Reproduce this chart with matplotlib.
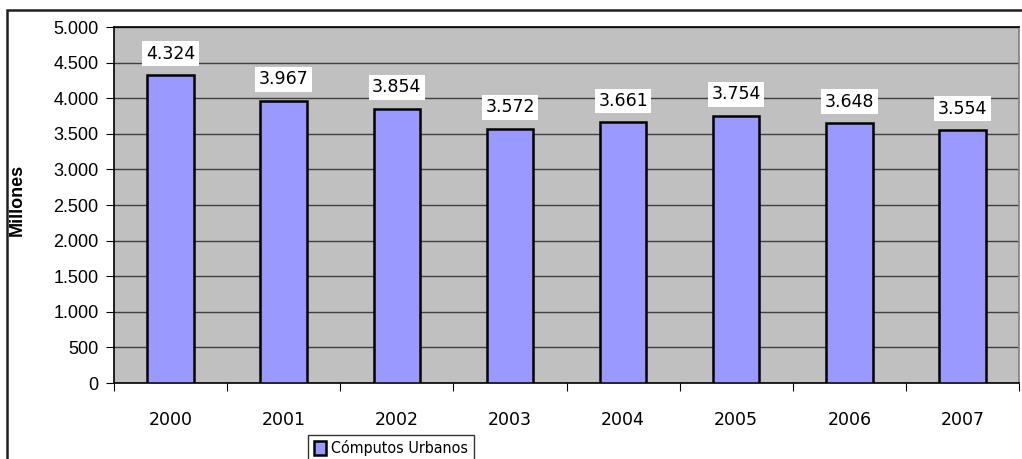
import matplotlib
import matplotlib.pyplot as plt
from matplotlib.patches import Rectangle

matplotlib.use('Agg')

# Datos
years = ['2000', '2001', '2002', '2003', '2004', '2005', '2006', '2007']
values = [4324, 3967, 3854, 3572, 3661, 3754, 3648, 3554]
y_ticks = [0, 500, 1000, 1500, 2000, 2500, 3000, 3500, 4000, 4500, 5000]


def fmt(v):
    # separador de miles con punto
    return f'{v:,}'.replace(',', '.')


W, H = 1022, 459
fig = plt.figure(figsize=(W / 100, H / 100), dpi=100)

# marco exterior del gráfico (recortado a la derecha y abajo)
fig.patches.append(Rectangle((7 / W, -0.05), 1.2, 1 - 10 / H + 0.05,
                             transform=fig.transFigure, fill=False,
                             edgecolor='#202020', linewidth=1.8))

ax = fig.add_axes([114 / W, 1 - 383 / H, (1019 - 114) / W, (383 - 27) / H])
ax.set_facecolor('#C0C0C0')

x = range(len(years))
ax.bar(x, values, width=0.41, color='#9999FF', edgecolor='black',
       linewidth=1.8, zorder=3, label='Cómputos Urbanos')

for i, v in zip(x, values):
    ax.text(i, v + 300, fmt(v), ha='center', va='center', fontsize=12.5,
            family='DejaVu Sans', zorder=4,
            bbox=dict(facecolor='white', edgecolor='none', pad=2.5))

ax.set_xlim(-0.5, len(years) - 0.5)
ax.set_ylim(0, 5000)
ax.set_yticks(y_ticks)
ax.set_yticklabels([fmt(t) for t in y_ticks], family='Liberation Sans',
                   fontsize=13)
ax.yaxis.grid(True, color='#404040', linewidth=1, zorder=0)

ax.set_xticks([i - 0.5 for i in range(len(years) + 1)], minor=False)
ax.set_xticklabels([])
ax.set_xticks(list(x), minor=True)
ax.set_xticklabels(years, minor=True, family='DejaVu Sans', fontsize=12.5)
ax.tick_params(axis='x', which='major', direction='out', length=6, color='black')
ax.tick_params(axis='x', which='minor', length=0, pad=20)
ax.tick_params(axis='y', direction='out', length=6, color='black', pad=5)

for side in ['left', 'bottom', 'top']:
    ax.spines[side].set_color('black')
    ax.spines[side].set_linewidth(1.2)
ax.spines['right'].set_color('#808080')
ax.spines['right'].set_linewidth(1.2)

ax.set_ylabel('Millones', fontweight='bold', family='Liberation Sans',
              fontsize=13)
ax.yaxis.set_label_coords(-0.097, 0.515)

leg = fig.legend(loc='lower left', bbox_to_anchor=(308 / W, -3 / H),
                 frameon=True, fancybox=False, edgecolor='black',
                 prop={'family': 'DejaVu Sans', 'size': 11.5,
                       'stretch': 'condensed'},
                 handlelength=0.8, handleheight=0.9, handletextpad=0.3,
                 borderpad=0.35, borderaxespad=0)
leg.get_frame().set_linewidth(1)

fig.savefig('out.png', dpi=100)
